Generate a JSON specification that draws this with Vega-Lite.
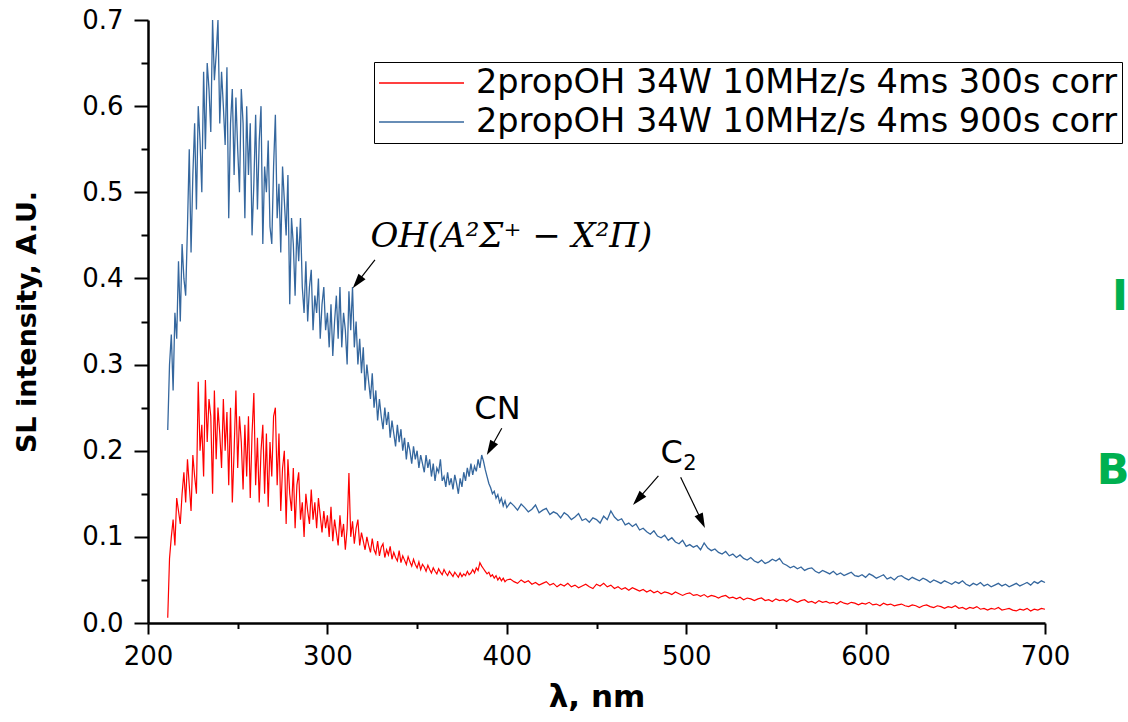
{
"$schema":"https://vega.github.io/schema/vega-lite/v6.json",
"width":897,"height":603,
"autosize":{"type":"none"},
"padding":{"left":148,"top":20,"right":83,"bottom":99},
"background":"white",
"config":{"view":{"stroke":null},"font":"DejaVu Sans"},
"datasets":{
"s900":[{"nm":211,"I":0.224},{"nm":212,"I":0.3},{"nm":213,"I":0.335},{"nm":214,"I":0.27},{"nm":215,"I":0.36},{"nm":216,"I":0.33},{"nm":217,"I":0.42},{"nm":218,"I":0.35},{"nm":219,"I":0.44},{"nm":220,"I":0.4},{"nm":221,"I":0.38},{"nm":222,"I":0.46},{"nm":223,"I":0.55},{"nm":224,"I":0.43},{"nm":225,"I":0.52},{"nm":226,"I":0.58},{"nm":227,"I":0.48},{"nm":228,"I":0.6},{"nm":229,"I":0.56},{"nm":230,"I":0.5},{"nm":231,"I":0.64},{"nm":232,"I":0.55},{"nm":233,"I":0.65},{"nm":234,"I":0.62},{"nm":235,"I":0.57},{"nm":236,"I":0.7},{"nm":237,"I":0.63},{"nm":238,"I":0.66},{"nm":239,"I":0.7},{"nm":240,"I":0.58},{"nm":241,"I":0.64},{"nm":242,"I":0.6},{"nm":243,"I":0.555},{"nm":244,"I":0.645},{"nm":245,"I":0.47},{"nm":246,"I":0.58},{"nm":247,"I":0.62},{"nm":248,"I":0.52},{"nm":249,"I":0.61},{"nm":250,"I":0.55},{"nm":251,"I":0.5},{"nm":252,"I":0.62},{"nm":253,"I":0.58},{"nm":254,"I":0.47},{"nm":255,"I":0.6},{"nm":256,"I":0.52},{"nm":257,"I":0.58},{"nm":258,"I":0.45},{"nm":259,"I":0.51},{"nm":260,"I":0.59},{"nm":261,"I":0.48},{"nm":262,"I":0.56},{"nm":263,"I":0.6},{"nm":264,"I":0.44},{"nm":265,"I":0.53},{"nm":266,"I":0.5},{"nm":267,"I":0.56},{"nm":268,"I":0.46},{"nm":269,"I":0.44},{"nm":270,"I":0.53},{"nm":271,"I":0.59},{"nm":272,"I":0.47},{"nm":273,"I":0.51},{"nm":274,"I":0.43},{"nm":275,"I":0.53},{"nm":276,"I":0.49},{"nm":277,"I":0.45},{"nm":278,"I":0.52},{"nm":279,"I":0.37},{"nm":280,"I":0.47},{"nm":281,"I":0.44},{"nm":282,"I":0.38},{"nm":283,"I":0.46},{"nm":284,"I":0.42},{"nm":285,"I":0.47},{"nm":286,"I":0.39},{"nm":287,"I":0.36},{"nm":288,"I":0.42},{"nm":289,"I":0.35},{"nm":290,"I":0.39},{"nm":291,"I":0.41},{"nm":292,"I":0.34},{"nm":293,"I":0.38},{"nm":294,"I":0.36},{"nm":295,"I":0.4},{"nm":296,"I":0.33},{"nm":297,"I":0.37},{"nm":298,"I":0.39},{"nm":299,"I":0.34},{"nm":300,"I":0.36},{"nm":301,"I":0.32},{"nm":302,"I":0.37},{"nm":303,"I":0.31},{"nm":304,"I":0.35},{"nm":305,"I":0.38},{"nm":306,"I":0.33},{"nm":307,"I":0.39},{"nm":308,"I":0.32},{"nm":309,"I":0.36},{"nm":310,"I":0.34},{"nm":311,"I":0.3},{"nm":312,"I":0.385},{"nm":313,"I":0.34},{"nm":314,"I":0.39},{"nm":315,"I":0.32},{"nm":316,"I":0.35},{"nm":317,"I":0.3},{"nm":318,"I":0.33},{"nm":319,"I":0.29},{"nm":320,"I":0.32},{"nm":321,"I":0.27},{"nm":322,"I":0.3},{"nm":323,"I":0.28},{"nm":324,"I":0.26},{"nm":325,"I":0.29},{"nm":326,"I":0.25},{"nm":327,"I":0.27},{"nm":328,"I":0.235},{"nm":329,"I":0.26},{"nm":330,"I":0.24},{"nm":331,"I":0.225},{"nm":332,"I":0.25},{"nm":333,"I":0.23},{"nm":334,"I":0.245},{"nm":335,"I":0.215},{"nm":336,"I":0.235},{"nm":337,"I":0.22},{"nm":338,"I":0.205},{"nm":339,"I":0.23},{"nm":340,"I":0.21},{"nm":341,"I":0.225},{"nm":342,"I":0.2},{"nm":343,"I":0.215},{"nm":344,"I":0.19},{"nm":345,"I":0.21},{"nm":346,"I":0.2},{"nm":347,"I":0.185},{"nm":348,"I":0.205},{"nm":349,"I":0.19},{"nm":350,"I":0.2},{"nm":351,"I":0.18},{"nm":352,"I":0.195},{"nm":353,"I":0.185},{"nm":354,"I":0.175},{"nm":355,"I":0.195},{"nm":356,"I":0.18},{"nm":357,"I":0.19},{"nm":358,"I":0.17},{"nm":359,"I":0.185},{"nm":360,"I":0.165},{"nm":361,"I":0.18},{"nm":362,"I":0.175},{"nm":363,"I":0.19},{"nm":364,"I":0.165},{"nm":365,"I":0.17},{"nm":366,"I":0.158},{"nm":367,"I":0.175},{"nm":368,"I":0.16},{"nm":369,"I":0.168},{"nm":370,"I":0.155},{"nm":371,"I":0.172},{"nm":372,"I":0.162},{"nm":373,"I":0.15},{"nm":374,"I":0.168},{"nm":375,"I":0.158},{"nm":376,"I":0.175},{"nm":377,"I":0.165},{"nm":378,"I":0.18},{"nm":379,"I":0.17},{"nm":380,"I":0.185},{"nm":381,"I":0.172},{"nm":382,"I":0.182},{"nm":383,"I":0.176},{"nm":384,"I":0.19},{"nm":385,"I":0.18},{"nm":386,"I":0.195},{"nm":387,"I":0.188},{"nm":388,"I":0.178},{"nm":389,"I":0.17},{"nm":390,"I":0.162},{"nm":391,"I":0.157},{"nm":392,"I":0.15},{"nm":393,"I":0.153},{"nm":394,"I":0.145},{"nm":395,"I":0.149},{"nm":396,"I":0.14},{"nm":397,"I":0.145},{"nm":398,"I":0.136},{"nm":399,"I":0.142},{"nm":400,"I":0.134},{"nm":402,"I":0.14},{"nm":404,"I":0.136},{"nm":406,"I":0.131},{"nm":408,"I":0.138},{"nm":410,"I":0.134},{"nm":412,"I":0.129},{"nm":414,"I":0.132},{"nm":416,"I":0.137},{"nm":418,"I":0.128},{"nm":420,"I":0.131},{"nm":422,"I":0.133},{"nm":424,"I":0.126},{"nm":426,"I":0.129},{"nm":428,"I":0.127},{"nm":430,"I":0.122},{"nm":432,"I":0.128},{"nm":434,"I":0.125},{"nm":436,"I":0.12},{"nm":438,"I":0.123},{"nm":440,"I":0.127},{"nm":442,"I":0.119},{"nm":444,"I":0.121},{"nm":446,"I":0.117},{"nm":448,"I":0.122},{"nm":450,"I":0.12},{"nm":452,"I":0.116},{"nm":454,"I":0.124},{"nm":456,"I":0.12},{"nm":458,"I":0.13},{"nm":460,"I":0.123},{"nm":462,"I":0.119},{"nm":464,"I":0.121},{"nm":466,"I":0.114},{"nm":468,"I":0.116},{"nm":470,"I":0.112},{"nm":472,"I":0.115},{"nm":474,"I":0.108},{"nm":476,"I":0.11},{"nm":478,"I":0.106},{"nm":480,"I":0.103},{"nm":482,"I":0.107},{"nm":484,"I":0.101},{"nm":486,"I":0.099},{"nm":488,"I":0.102},{"nm":490,"I":0.096},{"nm":492,"I":0.099},{"nm":494,"I":0.094},{"nm":496,"I":0.092},{"nm":498,"I":0.096},{"nm":500,"I":0.089},{"nm":502,"I":0.091},{"nm":504,"I":0.088},{"nm":506,"I":0.09},{"nm":508,"I":0.085},{"nm":510,"I":0.093},{"nm":512,"I":0.087},{"nm":514,"I":0.084},{"nm":516,"I":0.086},{"nm":518,"I":0.082},{"nm":520,"I":0.08},{"nm":522,"I":0.083},{"nm":524,"I":0.078},{"nm":526,"I":0.08},{"nm":528,"I":0.076},{"nm":530,"I":0.079},{"nm":532,"I":0.075},{"nm":534,"I":0.073},{"nm":536,"I":0.076},{"nm":538,"I":0.072},{"nm":540,"I":0.07},{"nm":542,"I":0.073},{"nm":544,"I":0.069},{"nm":546,"I":0.071},{"nm":548,"I":0.074},{"nm":550,"I":0.072},{"nm":552,"I":0.075},{"nm":554,"I":0.069},{"nm":556,"I":0.067},{"nm":558,"I":0.064},{"nm":560,"I":0.066},{"nm":562,"I":0.063},{"nm":564,"I":0.065},{"nm":566,"I":0.061},{"nm":568,"I":0.063},{"nm":570,"I":0.064},{"nm":572,"I":0.06},{"nm":574,"I":0.058},{"nm":576,"I":0.061},{"nm":578,"I":0.059},{"nm":580,"I":0.057},{"nm":582,"I":0.06},{"nm":584,"I":0.056},{"nm":586,"I":0.058},{"nm":588,"I":0.055},{"nm":590,"I":0.057},{"nm":592,"I":0.059},{"nm":594,"I":0.055},{"nm":596,"I":0.054},{"nm":598,"I":0.056},{"nm":600,"I":0.053},{"nm":602,"I":0.057},{"nm":604,"I":0.055},{"nm":606,"I":0.052},{"nm":608,"I":0.054},{"nm":610,"I":0.056},{"nm":612,"I":0.051},{"nm":614,"I":0.053},{"nm":616,"I":0.05},{"nm":618,"I":0.054},{"nm":620,"I":0.055},{"nm":622,"I":0.052},{"nm":624,"I":0.05},{"nm":626,"I":0.053},{"nm":628,"I":0.051},{"nm":630,"I":0.049},{"nm":632,"I":0.052},{"nm":634,"I":0.05},{"nm":636,"I":0.047},{"nm":638,"I":0.05},{"nm":640,"I":0.048},{"nm":642,"I":0.046},{"nm":644,"I":0.049},{"nm":646,"I":0.047},{"nm":648,"I":0.045},{"nm":650,"I":0.048},{"nm":652,"I":0.046},{"nm":654,"I":0.049},{"nm":656,"I":0.045},{"nm":658,"I":0.043},{"nm":660,"I":0.046},{"nm":662,"I":0.044},{"nm":664,"I":0.047},{"nm":666,"I":0.043},{"nm":668,"I":0.045},{"nm":670,"I":0.042},{"nm":672,"I":0.044},{"nm":674,"I":0.046},{"nm":676,"I":0.043},{"nm":678,"I":0.045},{"nm":680,"I":0.042},{"nm":682,"I":0.044},{"nm":684,"I":0.046},{"nm":686,"I":0.043},{"nm":688,"I":0.045},{"nm":690,"I":0.047},{"nm":692,"I":0.044},{"nm":694,"I":0.048},{"nm":696,"I":0.046},{"nm":698,"I":0.049},{"nm":700,"I":0.047}],
"s300":[{"nm":211,"I":0.006},{"nm":212,"I":0.075},{"nm":213,"I":0.1},{"nm":214,"I":0.12},{"nm":215,"I":0.09},{"nm":216,"I":0.145},{"nm":217,"I":0.13},{"nm":218,"I":0.115},{"nm":219,"I":0.15},{"nm":220,"I":0.175},{"nm":221,"I":0.14},{"nm":222,"I":0.19},{"nm":223,"I":0.16},{"nm":224,"I":0.13},{"nm":225,"I":0.195},{"nm":226,"I":0.17},{"nm":227,"I":0.15},{"nm":228,"I":0.28},{"nm":229,"I":0.2},{"nm":230,"I":0.23},{"nm":231,"I":0.17},{"nm":232,"I":0.282},{"nm":233,"I":0.21},{"nm":234,"I":0.26},{"nm":235,"I":0.24},{"nm":236,"I":0.15},{"nm":237,"I":0.27},{"nm":238,"I":0.19},{"nm":239,"I":0.25},{"nm":240,"I":0.22},{"nm":241,"I":0.18},{"nm":242,"I":0.26},{"nm":243,"I":0.2},{"nm":244,"I":0.245},{"nm":245,"I":0.16},{"nm":246,"I":0.25},{"nm":247,"I":0.14},{"nm":248,"I":0.2},{"nm":249,"I":0.27},{"nm":250,"I":0.18},{"nm":251,"I":0.24},{"nm":252,"I":0.21},{"nm":253,"I":0.155},{"nm":254,"I":0.23},{"nm":255,"I":0.17},{"nm":256,"I":0.24},{"nm":257,"I":0.145},{"nm":258,"I":0.22},{"nm":259,"I":0.267},{"nm":260,"I":0.16},{"nm":261,"I":0.215},{"nm":262,"I":0.14},{"nm":263,"I":0.2},{"nm":264,"I":0.23},{"nm":265,"I":0.15},{"nm":266,"I":0.22},{"nm":267,"I":0.135},{"nm":268,"I":0.21},{"nm":269,"I":0.17},{"nm":270,"I":0.24},{"nm":271,"I":0.25},{"nm":272,"I":0.16},{"nm":273,"I":0.22},{"nm":274,"I":0.13},{"nm":275,"I":0.18},{"nm":276,"I":0.2},{"nm":277,"I":0.115},{"nm":278,"I":0.19},{"nm":279,"I":0.15},{"nm":280,"I":0.13},{"nm":281,"I":0.18},{"nm":282,"I":0.11},{"nm":283,"I":0.16},{"nm":284,"I":0.175},{"nm":285,"I":0.12},{"nm":286,"I":0.14},{"nm":287,"I":0.1},{"nm":288,"I":0.15},{"nm":289,"I":0.13},{"nm":290,"I":0.115},{"nm":291,"I":0.155},{"nm":292,"I":0.12},{"nm":293,"I":0.14},{"nm":294,"I":0.11},{"nm":295,"I":0.145},{"nm":296,"I":0.125},{"nm":297,"I":0.105},{"nm":298,"I":0.13},{"nm":299,"I":0.11},{"nm":300,"I":0.125},{"nm":301,"I":0.1},{"nm":302,"I":0.135},{"nm":303,"I":0.095},{"nm":304,"I":0.12},{"nm":305,"I":0.105},{"nm":306,"I":0.09},{"nm":307,"I":0.125},{"nm":308,"I":0.1},{"nm":309,"I":0.115},{"nm":310,"I":0.085},{"nm":311,"I":0.11},{"nm":312,"I":0.174},{"nm":313,"I":0.1},{"nm":314,"I":0.118},{"nm":315,"I":0.092},{"nm":316,"I":0.11},{"nm":317,"I":0.12},{"nm":318,"I":0.09},{"nm":319,"I":0.105},{"nm":320,"I":0.095},{"nm":321,"I":0.085},{"nm":322,"I":0.1},{"nm":323,"I":0.09},{"nm":324,"I":0.082},{"nm":325,"I":0.098},{"nm":326,"I":0.085},{"nm":327,"I":0.08},{"nm":328,"I":0.095},{"nm":329,"I":0.078},{"nm":330,"I":0.088},{"nm":331,"I":0.092},{"nm":332,"I":0.076},{"nm":333,"I":0.085},{"nm":334,"I":0.079},{"nm":335,"I":0.089},{"nm":336,"I":0.074},{"nm":337,"I":0.082},{"nm":338,"I":0.076},{"nm":339,"I":0.072},{"nm":340,"I":0.084},{"nm":341,"I":0.07},{"nm":342,"I":0.078},{"nm":343,"I":0.073},{"nm":344,"I":0.068},{"nm":345,"I":0.077},{"nm":346,"I":0.071},{"nm":347,"I":0.066},{"nm":348,"I":0.074},{"nm":349,"I":0.068},{"nm":350,"I":0.064},{"nm":351,"I":0.071},{"nm":352,"I":0.062},{"nm":353,"I":0.068},{"nm":354,"I":0.065},{"nm":355,"I":0.06},{"nm":356,"I":0.067},{"nm":357,"I":0.062},{"nm":358,"I":0.058},{"nm":359,"I":0.064},{"nm":360,"I":0.06},{"nm":361,"I":0.057},{"nm":362,"I":0.063},{"nm":363,"I":0.059},{"nm":364,"I":0.056},{"nm":365,"I":0.062},{"nm":366,"I":0.058},{"nm":367,"I":0.055},{"nm":368,"I":0.06},{"nm":369,"I":0.057},{"nm":370,"I":0.054},{"nm":371,"I":0.059},{"nm":372,"I":0.056},{"nm":373,"I":0.053},{"nm":374,"I":0.058},{"nm":375,"I":0.054},{"nm":376,"I":0.057},{"nm":377,"I":0.055},{"nm":378,"I":0.06},{"nm":379,"I":0.056},{"nm":380,"I":0.058},{"nm":381,"I":0.062},{"nm":382,"I":0.058},{"nm":383,"I":0.064},{"nm":384,"I":0.061},{"nm":385,"I":0.07},{"nm":386,"I":0.066},{"nm":387,"I":0.063},{"nm":388,"I":0.06},{"nm":389,"I":0.057},{"nm":390,"I":0.059},{"nm":391,"I":0.054},{"nm":392,"I":0.056},{"nm":393,"I":0.052},{"nm":394,"I":0.055},{"nm":395,"I":0.05},{"nm":396,"I":0.053},{"nm":397,"I":0.049},{"nm":398,"I":0.052},{"nm":399,"I":0.048},{"nm":400,"I":0.05},{"nm":402,"I":0.051},{"nm":404,"I":0.048},{"nm":406,"I":0.046},{"nm":408,"I":0.05},{"nm":410,"I":0.047},{"nm":412,"I":0.049},{"nm":414,"I":0.045},{"nm":416,"I":0.047},{"nm":418,"I":0.044},{"nm":420,"I":0.046},{"nm":422,"I":0.048},{"nm":424,"I":0.044},{"nm":426,"I":0.046},{"nm":428,"I":0.042},{"nm":430,"I":0.045},{"nm":432,"I":0.043},{"nm":434,"I":0.046},{"nm":436,"I":0.042},{"nm":438,"I":0.044},{"nm":440,"I":0.041},{"nm":442,"I":0.043},{"nm":444,"I":0.045},{"nm":446,"I":0.042},{"nm":448,"I":0.04},{"nm":450,"I":0.045},{"nm":452,"I":0.043},{"nm":454,"I":0.046},{"nm":456,"I":0.042},{"nm":458,"I":0.044},{"nm":460,"I":0.04},{"nm":462,"I":0.042},{"nm":464,"I":0.039},{"nm":466,"I":0.041},{"nm":468,"I":0.038},{"nm":470,"I":0.041},{"nm":472,"I":0.039},{"nm":474,"I":0.037},{"nm":476,"I":0.039},{"nm":478,"I":0.036},{"nm":480,"I":0.038},{"nm":482,"I":0.035},{"nm":484,"I":0.037},{"nm":486,"I":0.034},{"nm":488,"I":0.036},{"nm":490,"I":0.035},{"nm":492,"I":0.033},{"nm":494,"I":0.036},{"nm":496,"I":0.034},{"nm":498,"I":0.032},{"nm":500,"I":0.034},{"nm":502,"I":0.035},{"nm":504,"I":0.032},{"nm":506,"I":0.033},{"nm":508,"I":0.031},{"nm":510,"I":0.033},{"nm":512,"I":0.03},{"nm":514,"I":0.032},{"nm":516,"I":0.031},{"nm":518,"I":0.029},{"nm":520,"I":0.031},{"nm":522,"I":0.032},{"nm":524,"I":0.029},{"nm":526,"I":0.03},{"nm":528,"I":0.028},{"nm":530,"I":0.03},{"nm":532,"I":0.027},{"nm":534,"I":0.029},{"nm":536,"I":0.028},{"nm":538,"I":0.026},{"nm":540,"I":0.028},{"nm":542,"I":0.029},{"nm":544,"I":0.026},{"nm":546,"I":0.027},{"nm":548,"I":0.025},{"nm":550,"I":0.028},{"nm":552,"I":0.026},{"nm":554,"I":0.027},{"nm":556,"I":0.025},{"nm":558,"I":0.028},{"nm":560,"I":0.026},{"nm":562,"I":0.024},{"nm":564,"I":0.026},{"nm":566,"I":0.027},{"nm":568,"I":0.024},{"nm":570,"I":0.025},{"nm":572,"I":0.023},{"nm":574,"I":0.026},{"nm":576,"I":0.024},{"nm":578,"I":0.025},{"nm":580,"I":0.023},{"nm":582,"I":0.024},{"nm":584,"I":0.022},{"nm":586,"I":0.025},{"nm":588,"I":0.023},{"nm":590,"I":0.022},{"nm":592,"I":0.024},{"nm":594,"I":0.023},{"nm":596,"I":0.021},{"nm":598,"I":0.023},{"nm":600,"I":0.022},{"nm":602,"I":0.024},{"nm":604,"I":0.021},{"nm":606,"I":0.022},{"nm":608,"I":0.02},{"nm":610,"I":0.023},{"nm":612,"I":0.021},{"nm":614,"I":0.022},{"nm":616,"I":0.02},{"nm":618,"I":0.021},{"nm":620,"I":0.022},{"nm":622,"I":0.02},{"nm":624,"I":0.019},{"nm":626,"I":0.021},{"nm":628,"I":0.02},{"nm":630,"I":0.018},{"nm":632,"I":0.02},{"nm":634,"I":0.021},{"nm":636,"I":0.019},{"nm":638,"I":0.018},{"nm":640,"I":0.02},{"nm":642,"I":0.019},{"nm":644,"I":0.017},{"nm":646,"I":0.019},{"nm":648,"I":0.018},{"nm":650,"I":0.02},{"nm":652,"I":0.017},{"nm":654,"I":0.018},{"nm":656,"I":0.016},{"nm":658,"I":0.018},{"nm":660,"I":0.017},{"nm":662,"I":0.019},{"nm":664,"I":0.016},{"nm":666,"I":0.017},{"nm":668,"I":0.015},{"nm":670,"I":0.017},{"nm":672,"I":0.016},{"nm":674,"I":0.018},{"nm":676,"I":0.015},{"nm":678,"I":0.016},{"nm":680,"I":0.017},{"nm":682,"I":0.015},{"nm":684,"I":0.014},{"nm":686,"I":0.016},{"nm":688,"I":0.015},{"nm":690,"I":0.017},{"nm":692,"I":0.014},{"nm":694,"I":0.016},{"nm":696,"I":0.015},{"nm":698,"I":0.017},{"nm":700,"I":0.016}],
"arrows":[{"x1":326.5,"y1":0.4214,"x2":316.7,"y2":0.3954},{"x1":397.2,"y1":0.226,"x2":390.9,"y2":0.2026},{"x1":484.5,"y1":0.1707,"x2":473.1,"y2":0.1435},{"x1":496.9,"y1":0.1691,"x2":508.7,"y2":0.1182}]
},
"layer":[
{"data":{"name":"s300"},"mark":{"type":"line","strokeWidth":1.2},
"encoding":{
"x":{"field":"nm","type":"quantitative","scale":{"domain":[200,700],"nice":false,"zero":false},
"axis":{"orient":"bottom","values":[200,300,400,500,600,700],"labelFlush":false,"grid":false,"title":"λ, nm","titleFontSize":31,"titleFontWeight":"bold","titleColor":"black","titlePadding":13,"labelFontSize":26,"labelColor":"black","labelPadding":9,"tickSize":11,"tickWidth":2,"tickColor":"black","domainWidth":2.5,"domainColor":"black"}},
"y":{"field":"I","type":"quantitative","scale":{"domain":[0,0.7],"nice":false,"zero":false},
"axis":{"orient":"left","values":[0,0.1,0.2,0.3,0.4,0.5,0.6,0.7],"format":".1f","grid":false,"title":"SL intensity, A.U.","titleFontSize":27,"titleFontWeight":"bold","titleColor":"black","titlePadding":40,"labelFontSize":26,"labelColor":"black","labelPadding":11,"tickSize":14,"tickWidth":2,"tickColor":"black","domainWidth":2.5,"domainColor":"black"}},
"color":{"datum":"2propOH 34W 10MHz/s 4ms 300s corr","type":"nominal",
"scale":{"domain":["2propOH 34W 10MHz/s 4ms 300s corr","2propOH 34W 10MHz/s 4ms 900s corr"],"range":["#ff0000","#35679e"]},
"legend":{"orient":"none","legendX":226,"legendY":42,"title":null,"symbolType":"stroke","symbolSize":7225,"symbolStrokeWidth":1.5,"clipHeight":34,"rowPadding":5,"padding":4,"labelFontSize":33.6,"labelColor":"black","labelOffset":11,"labelLimit":2000,"strokeColor":"black","fillColor":"white"}}}},
{"data":{"name":"s900"},"mark":{"type":"line","strokeWidth":1.3},
"encoding":{
"x":{"field":"nm","type":"quantitative","axis":{"orient":"bottom","values":[250,350,450,550,650],"labels":false,"domain":false,"grid":false,"title":null,"tickSize":5.5,"tickWidth":2,"tickColor":"black"}},
"y":{"field":"I","type":"quantitative","axis":{"orient":"left","values":[0.05,0.15,0.25,0.35,0.45,0.55,0.65],"labels":false,"domain":false,"grid":false,"title":null,"tickSize":7,"tickWidth":2,"tickColor":"black"}},
"color":{"datum":"2propOH 34W 10MHz/s 4ms 900s corr","type":"nominal"}}},
{"data":{"name":"arrows"},"mark":{"type":"rule","color":"black","strokeWidth":1.2},
"encoding":{"x":{"field":"x1","type":"quantitative","axis":null},"y":{"field":"y1","type":"quantitative","axis":null},"x2":{"field":"x2"},"y2":{"field":"y2"}}},
{"data":{"values":[{"nm":316.7,"I":0.3954}]},"mark":{"type":"point","shape":"M0,-1L-0.6,1L0.6,1Z","filled":true,"color":"black","opacity":1,"size":225,"angle":218.3},
"encoding":{"x":{"field":"nm","type":"quantitative","axis":null},"y":{"field":"I","type":"quantitative","axis":null}}},
{"data":{"values":[{"nm":390.9,"I":0.2026}]},"mark":{"type":"point","shape":"M0,-1L-0.6,1L0.6,1Z","filled":true,"color":"black","opacity":1,"size":225,"angle":209.5},
"encoding":{"x":{"field":"nm","type":"quantitative","axis":null},"y":{"field":"I","type":"quantitative","axis":null}}},
{"data":{"values":[{"nm":473.1,"I":0.1435}]},"mark":{"type":"point","shape":"M0,-1L-0.6,1L0.6,1Z","filled":true,"color":"black","opacity":1,"size":225,"angle":221.8},
"encoding":{"x":{"field":"nm","type":"quantitative","axis":null},"y":{"field":"I","type":"quantitative","axis":null}}},
{"data":{"values":[{"nm":508.7,"I":0.1182}]},"mark":{"type":"point","shape":"M0,-1L-0.6,1L0.6,1Z","filled":true,"color":"black","opacity":1,"size":225,"angle":155.3},
"encoding":{"x":{"field":"nm","type":"quantitative","axis":null},"y":{"field":"I","type":"quantitative","axis":null}}},
{"data":{"values":[{"nm":402.5,"I":0.448,"t":"OH(A²Σ⁺ − X²Π)"}]},"mark":{"type":"text","font":"DejaVu Serif","fontStyle":"italic","fontSize":34,"color":"black","align":"center","baseline":"middle"},
"encoding":{"x":{"field":"nm","type":"quantitative","axis":null},"y":{"field":"I","type":"quantitative","axis":null},"text":{"field":"t"}}},
{"data":{"values":[{"nm":394.8,"I":0.2479,"t":"CN"},{"nm":491.9,"I":0.1979,"t":"C"}]},"mark":{"type":"text","fontSize":32,"color":"black","align":"center","baseline":"middle"},
"encoding":{"x":{"field":"nm","type":"quantitative","axis":null},"y":{"field":"I","type":"quantitative","axis":null},"text":{"field":"t"}}},
{"data":{"values":[{"nm":502.1,"I":0.1846,"t":"2"}]},"mark":{"type":"text","fontSize":21,"color":"black","align":"center","baseline":"middle"},
"encoding":{"x":{"field":"nm","type":"quantitative","axis":null},"y":{"field":"I","type":"quantitative","axis":null},"text":{"field":"t"}}},
{"data":{"values":[{"nm":737.3,"I":0.3779,"t":"In"},{"nm":728.8,"I":0.1767,"t":"Ba"}]},"mark":{"type":"text","fontSize":43,"fontWeight":"bold","color":"#00b050","align":"left","baseline":"middle"},
"encoding":{"x":{"field":"nm","type":"quantitative","axis":null},"y":{"field":"I","type":"quantitative","axis":null},"text":{"field":"t"}}}
],
"resolve":{"axis":{"x":"independent","y":"independent"}}
}
